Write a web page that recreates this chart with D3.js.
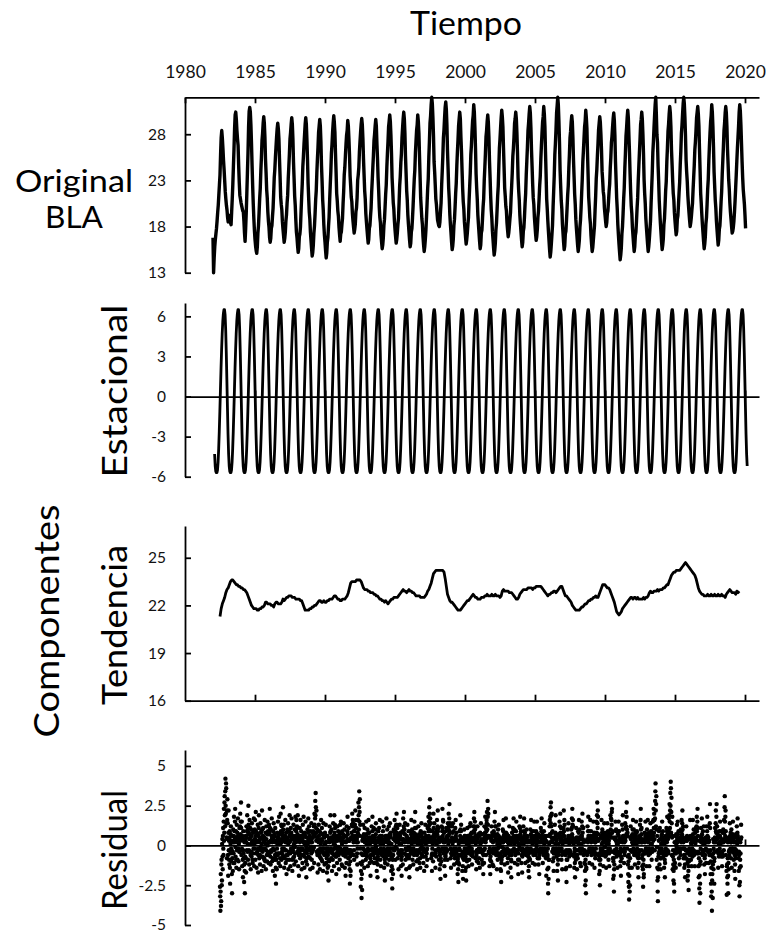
<!DOCTYPE html>
<html lang="es">
<head>
<meta charset="utf-8">
<script src="https://cdn.jsdelivr.net/npm/d3@7"></script>
<style>
  html, body { margin: 0; padding: 0; background: #fff; }
  svg { display: block; }
</style>
</head>
<body>
<svg id="chart" width="772" height="934"></svg>
<script>
// ---------------------------------------------------------------
// Sea-surface temperature at BLA and its additive decomposition
// (seasonal + trend + residual).
// ---------------------------------------------------------------

// Year ticks shared by all panels
const yearTicks = [1980, 1985, 1990, 1995, 2000, 2005, 2010, 2015, 2020];

// Tick values of each panel
const originalTicks = [13, 18, 23, 28];
const seasonalTicks = [-6, -3, 0, 3, 6];
const trendTicks = [16, 19, 22, 25];
const residualTicks = [-5, -2.5, 0, 2.5, 5];

// Original series, twice a month (°C), from January 1982
const originalStart = 1982;
const originalStep = 1 / 24;
const original = [
  16.8, 13.0, 14.6, 15.8, 16.6, 17.2, 17.8, 18.6, 19.5, 20.3, 21.4, 22.5, 23.6, 25.8, 27.6, 28.4, 27.6, 26.5, 25.2, 24.2, 23.0, 21.8, 21.0, 20.3,
  19.8, 19.0, 18.5, 18.9, 19.2, 18.7, 18.4, 18.2, 19.6, 21.0, 22.6, 24.5, 26.4, 28.6, 30.1, 30.4, 29.6, 28.4, 27.5, 26.8, 24.6, 22.8, 21.4, 21.0,
  20.6, 20.3, 20.0, 19.7, 19.6, 18.6, 17.3, 16.4, 17.8, 19.5, 21.6, 23.8, 26.0, 28.8, 30.5, 30.9, 30.4, 29.0, 27.0, 24.6, 22.4, 20.5, 18.9, 17.6,
  16.6, 15.9, 15.4, 15.1, 15.8, 17.3, 18.1, 19.5, 21.0, 22.1, 24.0, 25.5, 27.3, 28.1, 29.2, 29.9, 29.2, 27.7, 25.3, 23.8, 22.0, 21.1, 19.6, 18.6,
  17.9, 16.8, 16.3, 16.7, 17.8, 18.1, 19.1, 20.0, 21.6, 23.3, 24.2, 25.5, 26.6, 27.7, 28.6, 29.2, 28.6, 27.5, 25.3, 23.4, 21.2, 20.4, 19.8, 18.5,
  17.7, 17.0, 16.3, 16.7, 17.4, 18.6, 19.3, 20.5, 21.4, 23.2, 24.5, 25.9, 27.5, 28.2, 29.1, 29.8, 29.1, 27.5, 25.0, 23.2, 21.3, 20.3, 18.7, 17.4,
  16.8, 15.9, 15.2, 15.6, 16.9, 17.2, 18.0, 19.7, 21.2, 22.6, 24.5, 25.6, 26.9, 28.0, 29.1, 29.8, 29.1, 27.4, 25.3, 22.7, 21.1, 19.6, 18.8, 17.4,
  16.5, 15.6, 14.8, 15.2, 16.0, 17.3, 18.1, 19.4, 20.9, 21.9, 23.8, 25.3, 26.6, 28.2, 28.9, 29.6, 28.9, 27.2, 24.6, 22.9, 20.9, 19.8, 18.2, 17.1,
  16.3, 15.4, 14.6, 15.1, 16.3, 16.8, 18.0, 19.0, 20.9, 22.5, 24.0, 25.9, 26.9, 28.2, 29.2, 30.0, 29.3, 28.2, 25.9, 23.9, 21.6, 20.8, 19.7, 19.1,
  17.9, 17.1, 16.4, 17.2, 17.4, 18.2, 18.9, 20.5, 21.8, 23.6, 24.4, 25.7, 26.9, 27.9, 28.4, 29.5, 28.9, 27.5, 25.8, 23.5, 22.4, 21.2, 20.7, 19.4,
  18.6, 17.9, 17.3, 17.7, 18.3, 19.6, 20.0, 21.1, 23.0, 23.6, 24.4, 26.1, 27.2, 28.2, 29.1, 29.7, 29.0, 27.5, 25.3, 23.6, 21.9, 21.0, 19.4, 18.5,
  17.7, 16.9, 16.2, 16.6, 17.8, 18.1, 19.1, 20.0, 21.7, 23.0, 24.4, 25.7, 27.3, 28.0, 28.9, 29.6, 28.9, 27.0, 25.4, 23.3, 21.9, 20.1, 19.0, 18.4,
  17.1, 16.3, 15.6, 16.0, 16.8, 18.1, 18.8, 20.1, 21.5, 22.5, 24.4, 25.9, 27.2, 28.8, 29.4, 30.1, 29.4, 27.9, 25.9, 23.3, 22.0, 20.6, 19.9, 18.6,
  17.7, 16.9, 16.2, 16.6, 17.3, 18.2, 18.9, 20.6, 22.4, 23.4, 24.9, 25.9, 27.6, 28.7, 29.7, 30.4, 29.7, 28.1, 25.6, 23.8, 21.9, 20.9, 19.3, 18.3,
  17.4, 16.5, 15.8, 16.2, 17.4, 17.8, 18.9, 20.2, 21.7, 23.1, 24.1, 26.0, 27.2, 28.4, 29.0, 30.1, 29.4, 28.1, 25.7, 23.4, 21.1, 20.0, 18.9, 18.2,
  16.9, 16.0, 15.3, 15.8, 16.6, 17.6, 19.0, 20.5, 22.1, 23.2, 25.5, 27.2, 29.2, 30.0, 31.2, 32.0, 31.3, 29.8, 27.8, 25.0, 23.9, 22.5, 21.0, 20.4,
  19.5, 18.7, 18.4, 18.1, 18.0, 18.5, 19.6, 20.6, 22.5, 24.0, 25.6, 27.6, 28.5, 29.8, 30.9, 31.5, 30.7, 29.0, 26.2, 24.3, 22.2, 21.0, 19.3, 18.2,
  17.3, 16.3, 15.5, 15.9, 16.7, 18.1, 18.8, 20.1, 21.6, 22.7, 24.6, 26.1, 27.4, 28.9, 29.7, 30.4, 29.7, 27.7, 26.1, 24.0, 22.1, 20.7, 19.9, 18.5,
  17.7, 16.8, 16.1, 16.6, 17.3, 18.2, 19.0, 20.8, 22.3, 23.8, 25.8, 26.8, 28.2, 29.4, 30.0, 31.2, 30.4, 28.7, 26.5, 23.7, 22.2, 21.0, 19.3, 18.3,
  17.3, 16.4, 15.6, 16.0, 17.3, 17.6, 18.8, 20.1, 21.0, 23.0, 24.4, 25.9, 27.7, 28.4, 29.4, 30.1, 29.3, 27.7, 25.1, 23.3, 21.3, 19.8, 18.9, 17.5,
  16.6, 15.7, 14.9, 15.4, 16.2, 17.6, 18.4, 19.8, 21.3, 22.4, 24.5, 26.5, 27.5, 28.7, 29.8, 30.6, 29.9, 28.8, 26.5, 24.4, 22.2, 21.3, 20.2, 19.7,
  18.4, 17.6, 16.9, 17.3, 18.0, 18.8, 19.5, 21.1, 22.4, 23.8, 25.6, 26.5, 27.7, 29.2, 29.7, 30.4, 29.7, 28.1, 26.0, 23.3, 21.9, 20.9, 19.3, 18.3,
  17.4, 16.5, 15.8, 16.3, 17.5, 17.9, 19.1, 20.5, 21.6, 23.6, 25.1, 26.6, 28.4, 29.2, 30.2, 31.0, 30.3, 28.7, 26.3, 24.5, 22.6, 21.1, 20.4, 19.0,
  18.1, 17.2, 16.5, 16.9, 17.7, 19.0, 19.7, 21.0, 22.4, 23.4, 25.3, 26.8, 28.1, 29.3, 29.9, 31.0, 30.2, 28.8, 26.1, 23.7, 21.0, 19.9, 18.6, 17.5,
  16.5, 15.5, 14.7, 15.2, 16.1, 17.1, 18.1, 20.1, 21.8, 23.5, 25.8, 27.0, 28.5, 30.3, 31.1, 32.0, 31.2, 29.4, 27.1, 24.1, 22.4, 20.8, 19.9, 18.3,
  17.3, 16.3, 15.5, 15.9, 17.2, 17.5, 18.7, 20.0, 21.4, 22.4, 24.3, 25.8, 27.6, 28.3, 29.3, 30.0, 29.3, 27.6, 25.2, 23.4, 21.5, 20.4, 18.8, 17.8,
  16.9, 16.0, 15.3, 15.8, 16.5, 17.9, 18.7, 20.0, 21.6, 23.1, 25.0, 26.2, 27.5, 28.8, 29.4, 30.6, 29.8, 28.6, 26.0, 23.7, 21.2, 20.2, 19.0, 18.3,
  17.0, 16.1, 15.3, 15.7, 16.5, 17.3, 18.1, 19.8, 21.3, 23.2, 24.2, 25.7, 27.0, 28.5, 29.2, 29.9, 29.3, 28.0, 26.3, 24.0, 23.0, 21.8, 21.3, 20.0,
  19.3, 18.6, 18.0, 18.4, 19.4, 19.7, 20.7, 21.8, 22.6, 24.3, 25.5, 27.1, 27.8, 28.8, 29.7, 30.3, 29.5, 27.8, 25.0, 23.1, 21.1, 19.9, 18.2, 17.1,
  16.1, 15.2, 14.4, 14.9, 15.7, 17.2, 18.0, 19.4, 21.0, 22.2, 24.3, 25.9, 27.8, 28.7, 29.8, 30.6, 29.8, 27.8, 26.0, 23.7, 21.7, 20.2, 19.4, 17.9,
  17.0, 16.1, 15.3, 15.8, 17.0, 17.4, 18.6, 20.0, 21.1, 23.0, 24.5, 26.0, 27.4, 29.0, 29.6, 30.4, 29.6, 28.0, 25.9, 23.1, 21.6, 20.5, 18.9, 17.9,
  17.0, 16.1, 15.3, 15.8, 16.6, 17.6, 18.6, 20.5, 22.1, 23.8, 26.0, 27.2, 28.7, 30.0, 31.2, 32.0, 30.2, 28.0, 27.1, 24.6, 22.9, 20.8, 19.5, 18.3,
  17.3, 16.3, 15.5, 16.0, 16.7, 18.2, 18.9, 20.3, 21.9, 22.9, 25.0, 26.5, 28.3, 29.1, 30.2, 31.0, 30.3, 28.8, 26.3, 24.7, 23.0, 21.6, 20.9, 19.5,
  18.6, 17.8, 17.1, 17.5, 18.8, 19.2, 20.4, 21.7, 22.8, 24.7, 26.2, 28.1, 29.0, 30.2, 31.3, 32.0, 31.3, 29.8, 27.8, 25.2, 23.9, 22.9, 21.4, 20.4,
  19.5, 18.7, 18.0, 18.4, 19.0, 19.8, 20.5, 22.0, 23.3, 24.6, 26.3, 27.2, 28.4, 29.8, 30.4, 31.0, 30.2, 28.9, 26.4, 24.1, 21.6, 20.5, 19.3, 18.2,
  17.3, 16.4, 15.6, 16.1, 16.9, 18.3, 19.0, 20.4, 22.0, 23.1, 25.1, 26.7, 28.1, 29.3, 30.0, 31.2, 30.4, 28.8, 26.6, 23.9, 22.4, 20.9, 20.0, 18.6,
  17.7, 16.8, 16.0, 16.5, 17.7, 18.1, 19.3, 20.7, 21.8, 23.7, 25.2, 26.7, 28.4, 29.2, 30.3, 31.0, 30.3, 28.8, 26.4, 24.8, 23.1, 22.1, 20.6, 19.6,
  18.8, 18.0, 17.3, 17.5, 17.9, 18.6, 19.6, 20.8, 22.2, 23.6, 25.1, 26.5, 27.7, 28.9, 30.4, 31.2, 30.5, 29.0, 27.0, 25.0, 23.3, 22.0, 21.2, 20.4,
  19.2, 17.8
];

// Seasonal component: one annual cycle, twice a month, starting at the winter minimum
const seasonalCycle = [
  -5.7, -5.5, -4.9, -3.9, -2.6, -1.1, 0.5, 2.1, 3.5, 4.7, 5.6, 6.2,
  6.5, 6.5, 6.1, 5.0, 3.3, 1.3, -0.8, -2.8, -4.3, -5.2, -5.6, -5.7
];
const seasonalStart = 1982.115;  // date of the first seasonal value
const seasonalFirstPhase = 20;   // position of that value inside the cycle
const seasonalCount = 914;
const seasonalStep = 1 / 24;

// Trend component, monthly, from July 1982
const trendStart = 1982.5;
const trendStep = 1 / 12;
const trend = [
  21.3, 21.8, 22.1, 22.3, 22.5, 22.8,
  23.0, 23.1, 23.3, 23.5, 23.6, 23.6, 23.5, 23.4, 23.3, 23.3, 23.2, 23.2,
  23.1, 23.1, 23.0, 23.0, 22.9, 22.8, 22.6, 22.4, 22.2, 22.0, 21.9, 21.8,
  21.8, 21.8, 21.7, 21.7, 21.8, 21.8, 21.9, 21.9, 22.0, 22.2, 22.2, 22.1,
  22.1, 22.1, 22.0, 22.0, 21.9, 22.1, 22.2, 22.2, 22.1, 22.1, 22.1, 22.2,
  22.4, 22.3, 22.4, 22.5, 22.5, 22.6, 22.6, 22.6, 22.5, 22.5, 22.5, 22.4,
  22.4, 22.4, 22.4, 22.3, 22.3, 22.1, 21.9, 21.7, 21.7, 21.7, 21.7, 21.8,
  21.8, 21.9, 21.9, 22.0, 22.0, 22.1, 22.2, 22.3, 22.3, 22.2, 22.2, 22.3,
  22.2, 22.2, 22.3, 22.3, 22.4, 22.4, 22.4, 22.5, 22.6, 22.6, 22.5, 22.4,
  22.4, 22.3, 22.3, 22.4, 22.4, 22.4, 22.5, 22.6, 22.8, 23.1, 23.4, 23.5,
  23.5, 23.5, 23.5, 23.6, 23.6, 23.6, 23.6, 23.5, 23.3, 23.1, 23.0, 23.0,
  23.0, 22.9, 22.9, 22.8, 22.8, 22.8, 22.7, 22.7, 22.6, 22.6, 22.5, 22.4,
  22.4, 22.3, 22.3, 22.2, 22.3, 22.2, 22.1, 22.2, 22.3, 22.4, 22.4, 22.5,
  22.5, 22.5, 22.5, 22.6, 22.7, 22.8, 22.9, 23.0, 22.9, 22.9, 22.8, 22.9,
  23.0, 22.9, 22.9, 22.8, 22.8, 22.7, 22.6, 22.6, 22.6, 22.6, 22.5, 22.5,
  22.5, 22.5, 22.6, 22.7, 22.9, 23.0, 23.2, 23.4, 23.7, 24.0, 24.1, 24.2,
  24.2, 24.2, 24.2, 24.2, 24.2, 24.2, 24.1, 23.7, 23.2, 22.7, 22.5, 22.3,
  22.2, 22.2, 22.1, 22.0, 21.9, 21.8, 21.7, 21.7, 21.7, 21.8, 21.9, 22.0,
  22.1, 22.2, 22.3, 22.3, 22.4, 22.5, 22.6, 22.7, 22.6, 22.5, 22.5, 22.4,
  22.4, 22.4, 22.5, 22.5, 22.5, 22.6, 22.6, 22.7, 22.6, 22.6, 22.6, 22.7,
  22.6, 22.6, 22.7, 22.6, 22.6, 22.6, 22.5, 22.6, 22.9, 23.0, 22.9, 22.9,
  22.9, 22.9, 22.8, 22.8, 22.8, 22.7, 22.6, 22.5, 22.4, 22.4, 22.5, 22.7,
  22.8, 22.9, 23.0, 23.0, 23.0, 23.0, 23.1, 23.1, 23.1, 23.1, 23.0, 23.1,
  23.1, 23.2, 23.2, 23.2, 23.2, 23.2, 23.1, 23.0, 22.9, 22.8, 22.7, 22.6,
  22.7, 22.7, 22.8, 22.8, 22.9, 22.9, 22.8, 22.9, 23.0, 23.1, 23.2, 23.2,
  23.0, 22.8, 22.6, 22.6, 22.5, 22.4, 22.3, 22.2, 22.0, 21.9, 21.8, 21.7,
  21.7, 21.7, 21.7, 21.8, 21.9, 21.9, 22.0, 22.1, 22.1, 22.2, 22.3, 22.3,
  22.4, 22.4, 22.5, 22.5, 22.6, 22.5, 22.5, 22.7, 22.9, 23.1, 23.3, 23.3,
  23.3, 23.2, 23.1, 23.1, 23.0, 22.8, 22.6, 22.4, 22.2, 21.9, 21.6, 21.5,
  21.4, 21.5, 21.6, 21.8, 21.9, 22.0, 22.1, 22.2, 22.3, 22.4, 22.5, 22.5,
  22.4, 22.5, 22.5, 22.4, 22.5, 22.4, 22.4, 22.4, 22.4, 22.5, 22.4, 22.5,
  22.5, 22.6, 22.8, 22.9, 22.8, 22.8, 22.9, 22.9, 22.9, 23.0, 22.9, 23.0,
  23.0, 23.0, 23.1, 23.1, 23.2, 23.3, 23.3, 23.5, 23.7, 23.9, 24.0, 24.1,
  24.1, 24.2, 24.2, 24.2, 24.2, 24.3, 24.4, 24.5, 24.6, 24.7, 24.6, 24.5,
  24.4, 24.3, 24.2, 24.1, 24.0, 23.9, 23.7, 23.4, 23.1, 22.9, 22.8, 22.7,
  22.7, 22.6, 22.6, 22.6, 22.7, 22.6, 22.6, 22.7, 22.6, 22.6, 22.7, 22.6,
  22.6, 22.7, 22.6, 22.6, 22.7, 22.6, 22.6, 22.5, 22.7, 22.8, 22.9, 23.0,
  22.9, 22.8, 22.8, 22.8, 22.7, 22.9, 22.8, 22.9
];

// Residual component, 72 values a year, from July 1982
const residualStart = 1982.5;
const residualStep = 1 / 72;
const residual = [
  -2.6, -3.2, -4.1, -2.9, -1.8, -3.8, -3.5, -1.2, -0.9, -2.5, -2.2, 0.1, 0.4, -0.7, -1.5, 0.6, 1.1, -0.2, -0.6, 1.5, 2.3, 0.3, 0.8, 2.7, 3.1, 1.9, 1.2, 3.4, 4.2, 2.5, 2.0, 3.9, 3.6, 1.4, 0.5, 2.2,
  // 1983
  -0.8, 1.6, 2.9, 0.4, 1.4, -0.6, -1.9, 0.8, 2.2, -0.3, 0.3, -0.9, -1.2, 0.5, 0.9, -1.4, -2.4, -0.5, 0.1, 0.7, 1.2, -0.2, -1.0, 0.3,
  -0.3, -1.8, -3.0, -0.8, 0.6, -0.4, -1.6, 0.2, 1.0, -1.1, -0.5, 0.6, 1.8, 0.2, -1.1, 0.9, 0.4, 1.5, 2.3, -0.1, -0.7, 0.5, 0.9, -0.9,
  -1.4, 0.4, 1.3, -0.3, 0.2, 0.8, -0.9, 0.3, 1.7, 0.6, -0.2, -1.0, 0.6, 0.1, -1.5, -0.4, 1.1, 0.4, -0.4, 1.2, 2.0, 0.3, 0.7, 1.5,
  // 1984
  2.7, 1.1, -0.6, 0.5, 1.5, -0.2, -1.3, 0.6, 0.4, -0.9, -2.0, -0.3, 0.9, -0.5, -0.8, 0.3, -2.3, -1.2, 0.2, -1.6, -3.0, -0.7, -1.1, 0.4,
  0.6, -0.8, -1.7, 0.2, 1.2, 0.5, -0.3, 0.9, 1.9, -0.4, 0.1, 1.0, -0.9, 0.7, 2.5, 1.3, 0.8, -0.3, -1.2, 0.4, 1.6, 0.7, -0.4, 1.1,
  0.5, -0.6, -1.5, 0.1, 1.0, -0.4, -0.7, 0.6, 1.4, 0.2, 0.2, -0.9, -1.1, 0.3, 0.8, -0.5, -0.2, 0.9, 1.7, 0.1, -1.3, -0.2, 0.4, 1.0,
  // 1985
  1.6, 0.4, -0.9, 0.6, 2.1, 0.9, 0.3, -0.5, -1.4, 0.2, 0.8, -0.4, -0.5, 0.7, 1.3, -0.2, -1.7, -0.6, 0.6, 1.1, 1.9, 0.3, -0.8, 0.5,
  0.2, -0.6, -1.2, 0.4, 1.4, -0.1, -0.3, 0.8, 0.9, -0.7, -1.6, 0.1, 2.2, 1.0, 0.5, -0.4, -0.7, 0.6, 1.1, -0.2, -1.3, 0.3, 0.4, -0.8,
  -0.9, 0.5, 1.6, 0.2, -0.2, -1.0, 0.8, 0.1, -1.5, -0.3, 1.2, 0.4, 0.1, -0.6, -1.0, 0.7, 1.5, 0.0, -0.4, 0.9, 0.7, -0.5, -1.1, 0.2,
  // 1986
  1.3, 0.2, -0.6, 0.8, 2.3, 1.1, 0.2, -0.7, -1.2, 0.3, 1.0, -0.3, -0.4, 0.6, 1.7, 0.4, -1.0, 0.2, 0.5, -0.8, -1.6, -0.2, 0.9, 0.3,
  1.4, 0.5, -0.3, 0.7, 0.6, -0.9, -1.9, -0.6, 1.1, 0.2, -0.8, -1.4, -2.4, -0.9, 0.3, -0.5, -1.5, -0.2, 0.8, 0.1, -0.6, 0.5, 1.5, 0.6,
  0.2, -0.5, -1.1, 0.4, 1.8, 0.7, -0.5, 0.3, 0.7, -0.8, -1.3, 0.1, 2.0, 0.9, 0.4, 1.3, -0.9, 0.2, 1.2, -0.4, -0.2, 0.8, 0.6, -0.6,
  // 1987
  2.4, 1.0, -0.7, 0.4, 1.3, -0.2, -1.4, 0.3, 0.5, -0.8, -0.3, 0.6, 1.6, 0.2, -1.1, -0.3, 0.8, 0.3, -1.8, -0.6, 0.2, -0.9, 1.0, 0.4,
  -0.6, 0.5, 1.4, 0.1, -1.5, -0.4, 0.3, 0.9, -0.9, 0.2, 1.9, 0.6, 0.7, -0.5, -1.3, 0.3, 1.1, -0.2, -0.4, 0.8, 1.7, 0.5, -0.2, -0.9,
  -1.6, -0.4, 0.6, -0.3, -0.8, 0.4, 1.3, 0.0, 0.1, -0.7, -1.2, 0.3, 1.0, -0.1, -0.5, 0.6, 1.8, 0.5, -1.0, 0.2, 0.9, 1.6, 2.5, 1.1,
  // 1988
  1.2, 0.3, -0.4, 0.7, 1.9, 0.5, -1.3, -0.2, 0.6, -0.6, -1.9, -0.5, 0.3, -0.4, 1.1, 0.2, -0.8, 0.4, 1.6, 0.6, -0.2, 0.5, 0.9, -0.3,
  -1.5, -0.6, 0.4, -0.2, -1.1, 0.3, 1.3, 0.5, -0.6, 0.7, 1.8, 0.2, 0.2, -0.7, -1.4, 0.1, 0.8, -0.4, -0.3, 0.6, 1.5, 0.2, -1.0, -0.1,
  -2.0, -0.8, 0.5, -0.5, -1.2, 0.2, 1.0, -0.3, 0.1, 0.8, 1.7, 0.4, -0.7, 0.3, 1.2, -0.2, -0.3, 0.5, 0.6, -0.8, -1.5, -0.1, 0.9, 0.2,
  // 1989
  0.3, -0.5, 1.4, 0.4, -0.9, 0.2, 0.8, -0.4, -1.4, -0.3, 0.5, 0.9, -0.2, 0.6, 1.2, -0.1, -1.1, 0.7, 2.0, 1.3, 0.6, 1.7, 2.8, 1.9,
  3.3, 2.4, 1.1, 0.3, 2.2, 0.8, -0.4, 0.5, 1.0, -0.6, -1.7, -0.5, 0.4, -0.3, -1.2, 0.2, 1.3, 0.6, -0.5, 0.3, 0.9, -0.7, -1.5, -0.2,
  0.2, 0.8, -0.8, 0.1, 1.6, 0.4, -0.3, -0.9, 1.1, 0.3, -1.0, -0.2, 0.7, -0.4, -1.6, -0.5, 1.4, 0.6, -0.2, 0.7, 0.5, -0.6, -1.2, 0.1,
  // 1990
  0.8, 0.1, -0.5, 0.6, 1.3, 0.2, -1.1, -0.2, 0.2, -0.8, -1.7, -0.4, 0.6, -0.3, -1.4, -0.6, -0.2, -1.3, -2.2, -0.9, 0.4, -0.4, -1.0, 0.2,
  1.2, 0.4, -0.3, 0.8, 1.9, 0.9, 0.5, -0.2, -0.8, 0.3, 1.0, -0.4, -1.6, -0.5, 0.3, -0.3, -0.9, 0.4, 1.4, 0.6, 0.1, -0.6, -1.3, -0.2,
  1.9, 0.8, 0.2, 1.3, 1.1, 0.0, -0.7, 0.5, 0.6, -0.5, -1.8, -0.7, 0.4, -0.2, -1.1, 0.3, 1.2, 0.5, -0.4, 0.6, 0.9, -0.1, -0.6, 0.4,
  // 1991
  -1.5, -0.4, 0.7, -0.2, -0.9, 0.5, 1.3, 0.3, -0.2, 0.8, 1.5, 0.4, 0.5, -0.5, -1.2, 0.1, 0.9, -0.4, -1.3, -0.3, 0.3, 0.7, -0.6, 0.2,
  1.4, 0.5, -0.4, 0.6, 1.0, -0.2, -1.4, -0.5, 0.6, -0.7, -1.9, -0.6, 0.2, 0.6, -1.1, -0.2, 1.2, 0.3, -0.3, 0.9, 1.8, 0.7, 0.4, -0.4,
  -0.8, 0.3, 1.1, -0.5, -1.2, -0.3, 0.3, -1.5, -2.4, -0.7, -1.0, -1.9, -1.6, -0.3, 0.5, -0.6, -0.4, 0.8, 1.3, 0.4, 2.0, 1.2, 0.6, 1.6,
  // 1992
  1.4, 0.5, -0.6, 0.2, 0.9, -0.3, -0.9, 0.4, 0.5, 0.9, 1.3, 0.6, 2.2, 1.1, 0.3, 1.6, 1.1, 0.2, -0.7, 0.5, 0.4, -0.5, -1.2, -0.2,
  0.8, 0.2, 1.6, 0.7, 2.7, 1.9, 1.0, 2.4, 3.4, 1.5, 2.1, 2.9, 0.6, 1.3, -1.1, -0.2, -2.6, -1.6, -0.5, -2.1, -3.3, -1.2, -1.8, -2.8,
  0.3, -0.6, -1.0, 0.4, 1.3, 0.5, -0.2, 0.6, 0.7, -0.6, -1.4, -0.3, 1.1, 0.2, -0.5, 0.4, 0.6, -0.4, -0.9, 0.3, 1.5, 0.7, 0.1, -0.6,
  // 1993
  -0.7, 0.2, 1.0, -0.4, -1.3, -0.2, 0.4, 0.8, 1.6, 0.5, -0.3, 0.3, 0.8, -0.3, -1.1, 0.1, 0.5, -0.8, -1.9, -0.6, 0.2, -0.3, -1.0, 0.4,
  1.2, 0.3, -0.2, 0.9, 1.8, 0.4, 0.6, -0.5, -0.6, 0.3, 1.1, 0.2, -1.1, -0.4, 0.4, -0.2, -0.8, 0.5, 1.0, 0.2, 0.0, 0.7, 1.4, -0.1,
  -0.5, -1.1, -1.6, -0.3, 0.3, -0.9, -2.0, -1.2, -0.7, 0.2, 0.9, -0.3, -0.4, 0.5, 1.1, 0.3, 0.2, -0.5, 1.6, 0.6, -0.9, 0.1, 0.6, -0.2,
  // 1994
  -1.3, -0.3, 0.5, -0.4, -0.6, 0.6, 1.5, 0.4, 0.2, -0.5, 0.9, 0.1, -0.7, 0.3, 1.2, -0.2, -1.4, -0.4, 0.3, -0.9, -2.2, -1.1, -0.6, 0.4,
  0.6, -0.3, -0.8, 0.5, 1.7, 0.6, 0.2, -0.4, 1.0, 0.3, -1.2, -0.2, 0.4, -0.6, -0.5, 0.6, 1.2, 0.1, -0.9, 0.2, 0.7, -0.4, 1.4, 0.5,
  -0.2, 0.6, 0.8, -0.5, -1.6, -0.7, 0.1, -1.3, -2.1, -0.8, -2.7, -1.5, -0.9, -0.2, -1.8, -0.6, 0.4, 0.9, 1.0, -0.3, -0.3, 0.5, 1.6, 0.7,
  // 1995
  0.3, 0.9, -0.9, -0.1, 1.2, 0.5, 0.4, 1.3, 2.0, 0.8, -0.2, 0.6, 1.1, 0.2, -0.8, 0.4, 0.5, -0.5, -1.5, -0.4, 0.2, 0.7, -0.6, 0.1,
  1.3, 0.4, -0.4, 0.6, 0.8, -0.3, -1.3, -0.5, 0.1, -0.9, -1.9, -0.7, -0.3, 0.4, 0.9, -0.5, -1.2, 0.3, 1.7, 0.8, 0.4, 1.2, 2.1, 1.0,
  1.0, 0.2, -0.5, 0.7, 1.4, 0.3, -0.9, -0.2, 0.3, -0.6, -1.5, -0.3, 0.6, -0.2, -0.8, 0.5, 1.3, 0.4, 0.2, -0.7, -0.6, 0.3, 0.9, -0.1,
  // 1996
  -0.8, -1.4, -2.0, -0.6, 0.4, -0.3, -1.3, 0.2, 0.9, -0.4, -0.2, 0.7, 1.6, 0.5, 0.1, -0.5, 1.0, 0.3, -0.9, 0.2, 0.5, -0.4, -1.2, -0.2,
  0.3, 0.8, -0.6, 0.2, 1.5, 0.6, 0.2, 1.1, 2.1, 0.7, -0.4, 0.4, 1.1, 0.2, -1.0, -0.3, 0.4, -0.6, -1.5, -0.5, 0.6, 0.1, -0.9, 0.3,
  1.2, 0.4, -0.3, 0.5, 0.7, -0.4, -1.1, 0.1, 0.2, -0.8, -1.4, -0.2, 0.9, 0.1, -0.5, 0.6, 1.4, 0.3, 0.0, -0.6, 0.8, 0.2, -0.7, 0.4,
  // 1997
  0.5, -0.3, -1.1, -0.2, 0.2, -0.7, -1.6, -0.4, 0.8, 0.2, -0.4, 0.5, 1.3, 0.4, -0.7, 0.1, 0.6, -0.3, -1.3, -0.5, 0.3, -0.2, -0.9, 0.4,
  1.1, 0.5, 0.2, 1.2, 1.8, 0.9, 0.6, 1.5, 2.4, 1.3, 1.0, 2.0, 2.9, 1.7, 0.4, 0.9, 1.4, 0.2, -0.8, 0.3, 0.5, -0.6, -1.6, -0.5,
  -0.2, 0.4, 0.9, 0.1, -1.0, 0.6, 2.0, 1.1, 0.3, 0.8, 1.4, 0.5, -0.6, 0.2, 0.8, -0.3, -1.4, -0.5, 0.2, 0.6, -0.7, 0.3, 1.0, 0.1,
  // 1998
  1.6, 0.7, -0.3, 1.2, 2.2, 0.9, 0.4, -0.2, 1.1, 0.3, -0.9, 0.2, 0.5, -0.4, -1.5, -0.6, -0.4, -1.2, -2.1, -0.8, 0.3, -0.3, -1.0, 0.5,
  1.2, 0.4, -0.2, 0.9, 2.3, 1.1, 0.6, 1.6, 1.5, 0.2, -0.5, 0.4, 0.8, -0.2, -1.3, -0.4, 0.2, -0.9, -1.9, -0.7, -0.6, 0.3, 0.9, -0.2,
  1.1, 0.3, -0.4, 0.5, 0.6, -0.3, -0.9, 0.4, 1.4, 0.6, 0.1, 1.0, 2.0, 1.2, 0.7, 1.7, 2.6, 0.9, 0.3, 1.4, 1.2, -0.2, -0.8, 0.3,
  // 1999
  -1.4, -0.5, 0.3, -0.3, -0.6, 0.5, 1.2, 0.2, 0.1, 0.8, 1.4, 0.4, -0.5, 0.3, 0.9, -0.2, -1.2, -0.4, 0.4, -0.6, -0.8, 0.3, 1.1, 0.5,
  1.6, 0.6, -0.2, 0.4, 0.8, -0.5, -1.1, -0.3, 0.3, -0.8, -1.8, -0.9, -0.7, -1.5, -2.3, -1.1, 0.1, -0.6, -1.2, -0.2, 0.9, 0.3, -0.3, 0.6,
  1.9, 1.0, 0.4, 0.9, 1.3, 0.3, -0.6, 0.2, 0.5, -0.7, -1.6, -0.5, -0.4, -1.3, -2.1, -0.8, 0.2, -0.4, -0.9, 0.3, 1.0, 0.4, -0.2, 0.6,
  // 2000
  0.6, -0.5, -1.6, -0.7, -0.3, -1.4, -2.2, -0.9, 0.4, -0.2, -1.0, 0.1, 1.1, 0.3, -0.2, 0.6, 0.6, -0.5, -1.3, -0.4, 0.1, 0.5, -0.9, -0.1,
  1.2, 0.4, -0.4, 0.5, 1.4, 0.7, 0.3, -0.3, -0.6, 0.2, 0.8, -0.2, -1.2, -0.4, 0.2, -0.5, -0.7, 0.4, 1.2, 0.5, 0.3, 0.9, 1.7, 0.8,
  2.1, 1.2, 0.4, 1.5, 1.0, 0.2, -0.8, 0.1, 0.6, -0.4, -1.5, -0.6, 0.2, -0.3, -1.0, 0.4, 1.2, 0.5, -0.3, 0.6, 0.7, -0.4, -1.1, -0.2,
  // 2001
  -0.8, 0.2, 0.6, -0.4, -1.4, -0.3, 0.8, 0.1, -0.2, 0.7, 1.4, 0.4, 0.3, -0.4, -0.9, 0.2, 0.7, -0.3, -1.2, -0.5, -0.3, -1.1, -1.8, -0.6,
  0.4, -0.3, -1.1, 0.3, 1.2, 0.5, -0.2, 0.8, 1.8, 0.7, 0.2, 1.1, -0.6, 0.4, 0.9, 1.6, 1.4, 2.1, 0.5, 1.0, 2.8, 1.8, 1.3, 2.3,
  2.0, 0.6, -0.4, 0.5, 0.6, -0.5, -1.3, -0.2, -0.2, -0.9, -1.8, -0.7, 0.5, -0.3, -1.0, 0.3, 1.2, 0.4, -0.4, 0.6, 0.8, -0.3, -1.2, -0.4,
  // 2002
  0.2, -0.5, -1.3, -0.2, 0.9, 0.3, -0.4, 0.6, 1.5, 0.7, 2.1, 1.2, 0.6, -0.2, 1.2, 0.4, -0.6, 0.3, 0.4, -0.4, -1.5, -0.6, 0.1, 0.7,
  -0.9, -0.2, 1.0, 0.3, -0.1, 0.6, 1.3, 0.4, 0.3, -0.5, -0.8, 0.1, 0.5, -0.6, -1.5, -0.7, -0.6, -1.6, -2.3, -1.1, -0.9, -0.1, 0.4, -0.4,
  -0.7, 0.3, 1.0, 0.2, 0.2, 0.9, 1.6, 0.6, -0.2, 0.4, 0.7, -0.5, -1.2, -0.3, 0.3, -0.6, -0.5, 0.6, 1.7, 0.8, 0.6, -0.3, -0.5, 0.4,
  // 2003
  0.7, -0.2, -1.1, -0.4, 0.2, -0.8, -1.7, -0.5, 0.6, 0.1, -0.3, 0.5, 1.2, 0.3, -0.6, 0.2, 0.4, -0.5, -1.4, -0.6, 0.1, -0.9, -2.0, -1.0,
  -0.6, 0.2, 0.8, -0.3, -0.4, 0.5, 1.1, 0.4, 0.3, 0.9, 1.7, 0.6, -0.2, 0.5, 1.0, 0.1, -1.1, -0.3, 0.4, -0.6, -0.5, 0.3, 0.9, 0.2,
  1.5, 0.6, -0.3, 0.4, 0.6, -0.4, -1.2, -0.3, 0.2, -0.9, -1.8, -0.5, 0.1, 0.6, -0.9, -0.1, 1.2, 0.5, 0.4, 1.1, 1.8, 0.7, -0.2, 0.5,
  // 2004
  0.9, 0.1, -1.1, -0.3, 0.3, -0.6, -1.7, -0.7, 0.5, -0.2, -0.4, 0.4, 1.2, 0.4, 0.1, 0.9, 1.7, 0.6, -0.5, 0.2, 0.8, -0.3, -1.1, -0.4,
  0.4, -0.3, -0.6, 0.3, 1.0, 0.2, -0.2, 0.5, 0.6, -0.4, -1.0, -0.2, 0.2, -0.7, -1.6, -0.5, -0.5, -1.3, -2.0, -0.8, 0.3, -0.3, -0.9, 0.2,
  1.0, 0.3, -0.2, 0.7, 1.6, 0.6, 0.5, -0.3, -0.4, 0.3, 0.9, 0.1, -1.1, -0.4, 0.2, -0.5, -0.6, 0.4, 0.9, 0.2, 1.5, 0.6, -0.3, 0.4,
  // 2005
  -1.2, -0.3, 0.4, -0.4, -0.6, 0.3, 0.9, 0.1, -0.1, 0.7, 1.5, 0.5, 0.3, -0.3, -0.8, 0.2, 0.7, -0.4, -1.2, -0.3, 0.2, -0.8, -1.8, -0.6,
  -0.5, 0.2, 0.6, -0.2, -0.3, 0.5, 1.1, 0.3, 0.2, 0.9, 1.7, 0.6, -0.4, 0.3, 0.8, -0.2, -1.1, -0.4, 0.5, -0.3, -0.6, 0.4, 0.9, 0.1,
  1.4, 0.5, -0.2, 0.6, 0.5, -0.4, -0.7, 0.2, 0.3, -0.8, -1.9, -0.6, -0.4, 0.2, 0.6, -0.7, -1.5, -0.6, -0.2, -2.4, -3.0, -1.4, -2.1, -0.9,
  // 2006
  -0.9, 0.1, 0.6, 1.2, 1.6, 0.7, 0.2, 1.8, 2.4, 1.4, 2.7, 1.9, 1.2, 0.5, 2.0, 0.8, 0.3, -0.4, 0.9, 0.2, -1.0, -0.3, -0.2, -0.8,
  -1.6, -0.5, 0.4, -0.3, -0.5, 0.5, 1.3, 0.4, 0.1, 0.8, 1.9, 0.7, 0.6, -0.2, -0.7, 0.3, 0.4, -0.5, -1.6, -0.6, -0.3, -1.2, -2.2, -0.9,
  -0.6, 0.1, 0.7, -0.2, -0.4, 0.6, 1.5, 0.5, 0.5, 1.2, 2.0, 0.8, 0.3, -0.3, 1.1, 0.2, -0.9, -0.2, 0.4, -0.6, -1.5, -0.4, 0.1, 0.6,
  // 2007
  0.8, 0.2, -0.4, 1.1, 2.2, 0.9, 0.6, 1.6, 1.3, 0.3, -0.5, 0.2, 0.4, -0.6, -1.5, -0.5, -0.3, -1.4, -2.3, -0.9, 0.2, -0.4, -0.9, 0.3,
  1.0, 0.2, -0.3, 0.6, 1.4, 0.5, 0.2, -0.5, -0.7, 0.1, 0.6, -0.3, -1.3, -0.4, 0.3, -0.6, -0.5, 0.4, 1.0, 0.2, 0.4, 1.1, 1.7, 0.7,
  2.3, 1.3, 0.5, 1.6, 1.2, 0.3, -0.6, 0.1, 0.3, -0.7, -1.4, -0.4, -0.2, -1.1, -2.0, -0.7, 0.4, -0.3, -0.9, 0.2, 1.1, 0.3, -0.6, 0.5,
  // 2008
  -1.5, -0.6, 0.3, -0.3, -0.8, 0.2, 0.9, 0.1, 0.2, 0.8, 1.6, 0.5, -0.3, 0.4, 1.0, -0.2, -1.1, -0.4, 0.4, -0.5, -1.3, -0.3, 0.6, 0.1,
  1.5, 0.6, -0.2, 1.2, 2.0, 0.8, 0.4, -0.3, 1.1, 0.2, -0.6, 0.3, 0.2, -0.5, -1.1, -0.3, -0.4, -1.6, -2.5, -1.2, -0.9, -2.2, -3.0, -1.5,
  -1.4, -0.5, 0.3, -0.4, -0.6, 0.4, 1.2, 0.3, 0.2, 0.9, 1.8, 0.6, -0.4, 0.3, 0.9, -0.2, -1.1, -0.3, 0.5, -0.4, 1.6, 0.6, -0.2, 0.5,
  // 2009
  0.9, 0.2, -0.6, 0.3, 0.3, -0.5, -1.2, -0.3, 0.6, -0.2, -0.4, 0.5, 1.5, 0.4, -0.3, 0.6, 0.8, -0.4, -1.4, -0.5, 0.2, -0.6, -0.8, 0.2,
  0.6, -0.2, -0.5, 0.5, 1.5, 0.8, 0.3, 1.9, 2.7, 1.4, 1.1, 2.2, 1.8, 0.7, -0.6, 0.3, 0.4, -0.9, -1.8, -0.7, -0.5, -1.6, -2.5, -1.2,
  -0.9, -0.2, 0.5, -0.4, -0.3, 0.6, 1.6, 0.5, 0.1, 0.8, 1.0, -0.2, -0.6, 0.2, 0.4, -0.5, -1.3, -0.4, 0.2, 0.7, 1.4, 0.4, -0.1, 0.5,
  // 2010
  0.8, -0.1, -0.7, 0.2, 0.5, -0.6, -1.4, -0.4, 0.1, 0.6, -0.5, 0.3, 1.4, 0.5, 0.2, 0.9, 0.8, -0.2, -0.9, 0.1, 0.3, -0.5, -1.3, -0.3,
  0.6, -0.2, -0.4, 0.7, 1.9, 1.0, 0.5, 1.7, 2.7, 1.6, 1.3, 2.1, 2.3, 0.8, -0.4, 0.5, 0.9, -0.8, -2.1, -1.0, -0.8, -1.9, -2.9, -1.5,
  -1.2, -0.3, 0.4, -0.4, -0.5, 0.5, 1.5, 0.4, 0.3, 1.0, 0.9, -0.2, -0.7, 0.1, 0.2, -0.6, -1.4, -0.4, 0.1, 0.7, 0.9, 0.3, 1.5, 0.6,
  // 2011
  0.9, 0.2, -0.6, 0.4, 0.3, -0.5, -1.3, -0.4, -0.2, -1.0, -1.9, -0.7, 0.4, -0.3, -0.8, 0.3, 1.3, 0.5, 0.2, 1.0, 1.9, 0.6, -0.3, 0.4,
  0.6, -0.4, -1.1, -0.2, 0.2, -0.6, -0.4, 0.5, 1.4, 0.3, 0.5, 1.1, 2.1, 1.2, 0.7, 1.8, 2.7, 1.0, -0.2, 0.6, 0.8, -0.7, -1.2, -1.8,
  -2.3, -1.0, -0.6, -2.6, -3.4, -1.9, -1.4, -2.9, -2.5, -0.8, 0.5, -0.3, 1.2, 0.4, -0.3, 0.5, 0.6, -0.4, -1.4, -0.3, 0.2, 0.7, 1.0, 0.1,
  // 2012
  1.6, 0.6, -0.2, 0.5, 1.0, 0.1, -0.6, 0.3, 0.2, -0.5, -1.2, -0.3, 0.8, 0.1, -0.4, 0.6, 1.5, 0.4, 0.1, 0.8, 0.9, -0.2, -0.7, 0.2,
  -1.4, -0.5, 0.3, -0.8, -2.0, -1.1, -0.6, 0.2, 0.5, -0.3, -0.4, 0.6, 1.3, 0.4, 0.6, 1.6, 2.3, 1.0, 0.2, 0.7, 1.1, -0.3, -0.8, 0.2,
  -1.3, -0.6, 0.4, -1.5, -2.6, -1.2, -0.9, -2.0, -1.8, -0.4, 0.3, -0.5, 0.8, 0.2, -0.5, 0.6, 1.5, 0.4, -0.2, 0.5, 0.7, -0.4, -1.3, -0.2,
  // 2013
  1.0, 0.3, -0.3, 0.7, 1.6, 0.5, 0.2, -0.4, -0.6, 0.3, 0.8, -0.2, -1.3, -0.4, 0.4, -0.3, -0.5, 0.6, 1.4, 0.4, 0.1, 0.9, 0.7, -0.3,
  -0.9, 0.1, 0.5, -0.4, -0.2, 0.8, 1.5, 0.6, 0.3, 1.6, 2.3, 1.1, 0.8, 2.0, 1.6, 0.4, -0.3, 1.7, 2.8, 3.4, 3.9, 2.2, 1.2, 2.6,
  3.1, 1.0, -0.9, -0.1, 0.6, -1.4, -2.2, -2.9, -3.5, -2.0, -1.5, -0.7, -0.5, 0.3, 0.9, -0.4, -1.2, -0.2, 1.1, 0.4, -0.2, -0.8, -1.5, -0.5,
  // 2014
  -0.8, 0.1, 0.6, -0.3, -0.2, 0.7, 1.5, 0.5, 0.3, -0.4, 0.9, 0.2, -0.7, 0.2, 0.4, -0.5, -1.4, -0.6, 0.1, -0.9, -2.0, -1.1, -0.4, 0.3,
  0.6, -0.2, -0.6, 0.4, 1.1, 0.3, 0.2, 0.9, 1.8, 0.7, -0.3, 0.5, 0.4, -0.5, -0.4, 0.8, 1.7, 1.0, 0.6, 1.9, 2.6, 1.5, 1.1, 2.2,
  3.3, 2.5, 4.0, 3.6, 0.8, 2.1, 3.0, 1.4, -0.6, 0.5, 1.8, 0.6, -1.5, -0.7, -0.3, -1.2, -2.2, -1.6, -0.9, -2.4, -2.9, -1.3, 0.2, -0.5,
  // 2015
  -1.1, -0.3, 0.6, -0.4, -1.4, -0.5, 0.7, 0.1, -0.1, 0.6, 1.3, 0.4, 0.2, -0.4, 1.5, 0.7, -0.4, 0.3, 0.9, -0.2, -0.8, -0.3, 0.4, -0.4,
  -1.2, -0.4, 0.5, -0.2, -0.6, 0.4, 1.0, 0.3, 0.2, 0.9, 1.6, 0.6, 0.7, 1.4, 2.2, 1.0, -0.2, 0.5, 1.2, 0.2, -0.8, -0.2, 0.3, -0.6,
  -1.4, -0.6, -0.2, -1.2, -2.0, -0.8, 0.4, -0.3, -0.8, 0.5, 1.2, 0.3, -0.3, 0.3, 0.6, -0.5, -1.1, -2.2, -1.9, -0.9, -0.4, -1.6, -2.8, -1.3,
  // 2016
  -1.0, -0.2, 0.5, -0.3, -0.6, 0.4, 1.6, 0.6, 0.4, -0.3, -0.9, 0.1, 0.2, -0.5, -1.3, -0.4, 0.5, -0.2, -0.7, 0.4, 1.6, 0.7, 0.3, -0.3,
  1.0, 0.2, -0.6, 0.3, 0.2, -0.5, -1.3, -0.4, 0.8, 0.1, -0.4, 0.5, 1.1, 0.4, 0.3, 1.2, 1.8, 0.9, -0.5, 1.5, 2.3, 1.1, 0.6, -0.4,
  -0.5, -1.3, -2.0, -0.8, 0.3, -2.7, -3.6, -1.9, -1.2, -2.4, -3.0, -1.0, -0.2, 0.5, 1.1, 0.2, -0.5, 0.6, 1.7, 0.7, 0.4, -0.3, -0.6, 0.3,
  // 2017
  0.9, 0.1, -0.5, 0.4, 1.2, 0.3, -1.2, -0.3, 0.1, -0.8, -1.8, -0.6, -0.3, 0.4, 0.5, -0.2, -1.1, -0.3, 1.2, 0.4, 0.2, 0.9, 1.8, 0.6,
  0.4, -0.3, -0.4, 0.5, 1.2, 0.2, -1.1, -0.4, 0.3, -0.6, -0.5, 1.4, 2.6, 1.1, -0.3, -1.8, -1.0, -2.4, -3.2, -1.4, -0.6, -2.9, -4.1, -2.2,
  -1.8, -0.7, -3.3, -1.2, 0.4, -0.5, -1.5, -0.2, 0.2, -1.0, -2.4, -0.8, -0.4, 0.5, 1.1, 0.2, 0.3, 1.4, 2.2, 0.9, 0.8, 1.8, 2.6, 1.2,
  // 2018
  1.2, 0.4, -0.3, 0.5, 0.7, -0.4, -1.4, -0.5, 0.1, 0.6, -0.7, 0.2, 0.9, 0.1, -0.2, 0.6, 1.5, 0.5, 0.1, -0.5, 0.9, 0.3, -0.7, 0.2,
  0.3, -0.4, -1.3, -0.5, 0.2, 0.8, -0.7, 0.3, 1.0, 0.4, 0.2, -0.3, 1.6, 0.8, 0.3, 2.4, 3.1, 1.5, 0.6, 1.8, 2.2, 0.9, -0.6, 0.3,
  0.5, -1.6, -3.1, -1.3, -1.2, -2.0, -2.4, -0.8, 0.2, -1.9, -3.0, -1.1, -1.5, -0.4, 0.4, -0.3, -0.6, 0.5, 1.4, 0.6, 0.3, -0.2, 0.8, 0.2,
  // 2019
  -0.8, 0.2, 1.0, -0.3, -1.4, -0.4, 0.5, -0.2, -0.2, 0.7, 1.5, 0.4, 0.3, -0.4, -0.9, 0.2, 0.6, -0.5, -1.6, -0.6, -0.2, -1.2, -2.1, -0.8,
  -0.6, 0.2, 0.7, -0.3, -0.4, 0.5, 1.2, 0.3, 0.1, 0.8, 1.7, 0.6, -0.5, 0.3, 0.4, -0.8, -1.6, -0.4, -0.6, -2.5, -3.2, -1.4, -2.3, -0.9,
  0.2, -0.5, -1.3, 0.4, 1.3, 0.5
];

// ---------------------------------------------------------------
// Series as {t, v} records
// ---------------------------------------------------------------
const toSeries = (start, step, values) => values.map((v, i) => ({ t: start + i * step, v }));

const originalSeries = toSeries(originalStart, originalStep, original);
const trendSeries = toSeries(trendStart, trendStep, trend);
const residualSeries = toSeries(residualStart, residualStep, residual);
const seasonalSeries = d3.range(seasonalCount).map(i => ({
  t: seasonalStart + i * seasonalStep,
  v: seasonalCycle[(seasonalFirstPhase + i) % seasonalCycle.length]
}));

// ---------------------------------------------------------------
// Layout and scales
// ---------------------------------------------------------------
const FONT = "Lato, 'Open Sans', 'DejaVu Sans', sans-serif";
const svg = d3.select("#chart");

const x = d3.scaleLinear().domain([1980, 2021]).range([185, 759]);
const yOriginal = d3.scaleLinear().domain([13, 32]).range([272.7, 97.3]);
const ySeasonal = d3.scaleLinear().domain([-6, 7]).range([476.7, 303]);
const yTrend = d3.scaleLinear().domain([16, 27]).range([700.7, 526]);
const yResidual = d3.scaleLinear().domain([-5, 6]).range([925, 750]);

function styleAxis(g, size) {
  g.attr("font-family", FONT).attr("font-size", size);
  g.selectAll("path.domain").attr("stroke", "#000").attr("stroke-width", 1.8);
  g.selectAll(".tick line").attr("stroke", "#000").attr("stroke-width", 1.8);
  g.selectAll("text").attr("fill", "#111");
}

function drawYAxis(scale, ticks) {
  const g = svg.append("g")
    .attr("transform", `translate(${x.range()[0]},0)`)
    .call(d3.axisLeft(scale)
      .tickValues(ticks)
      .tickSizeInner(-6)
      .tickSizeOuter(0)
      .tickPadding(19)
      .tickFormat(d => String(d)));
  styleAxis(g, 15.5);
}

// Horizontal axis without labels, ticks pointing up
function drawTimeLine(yPos) {
  const g = svg.append("g")
    .attr("transform", `translate(0,${yPos})`)
    .call(d3.axisBottom(x)
      .tickValues(yearTicks.slice(1))
      .tickSizeInner(-6)
      .tickSizeOuter(0)
      .tickFormat(""));
  styleAxis(g, 10);
}

const lineOf = y => d3.line().x(d => x(d.t)).y(d => y(d.v));

// ---------------------------------------------------------------
// Panel 1: original series with the year axis on top
// ---------------------------------------------------------------
const topAxis = svg.append("g")
  .attr("transform", `translate(0,${yOriginal.range()[1]})`)
  .call(d3.axisTop(x)
    .tickValues(yearTicks)
    .tickSizeInner(-6)
    .tickSizeOuter(0)
    .tickPadding(19)
    .tickFormat(d3.format("d")));
styleAxis(topAxis, 17.5);

drawYAxis(yOriginal, originalTicks);

svg.append("path")
  .datum(originalSeries)
  .attr("fill", "none")
  .attr("stroke", "#000")
  .attr("stroke-width", 3.4)
  .attr("stroke-linejoin", "round")
  .attr("d", lineOf(yOriginal));

// ---------------------------------------------------------------
// Panel 2: seasonal component
// ---------------------------------------------------------------
drawYAxis(ySeasonal, seasonalTicks);
svg.append("path")
  .datum(seasonalSeries)
  .attr("fill", "none")
  .attr("stroke", "#000")
  .attr("stroke-width", 2.8)
  .attr("stroke-linejoin", "round")
  .attr("d", lineOf(ySeasonal));
drawTimeLine(ySeasonal(0));

// ---------------------------------------------------------------
// Panel 3: trend component
// ---------------------------------------------------------------
drawYAxis(yTrend, trendTicks);
drawTimeLine(yTrend.range()[0]);
svg.append("path")
  .datum(trendSeries)
  .attr("fill", "none")
  .attr("stroke", "#000")
  .attr("stroke-width", 2.8)
  .attr("stroke-linejoin", "round")
  .attr("d", lineOf(yTrend));

// ---------------------------------------------------------------
// Panel 4: residual component (points)
// ---------------------------------------------------------------
drawYAxis(yResidual, residualTicks);
drawTimeLine(yResidual(0));
svg.append("g")
  .selectAll("circle")
  .data(residualSeries)
  .join("circle")
  .attr("cx", d => x(d.t))
  .attr("cy", d => yResidual(d.v))
  .attr("r", 2.2)
  .attr("fill", "#000");

// ---------------------------------------------------------------
// Titles
// ---------------------------------------------------------------
function label(text, px, py, size, len, rotate) {
  svg.append("text")
    .attr("transform", `translate(${px},${py})` + (rotate ? " rotate(-90)" : ""))
    .attr("text-anchor", "middle")
    .attr("font-family", FONT)
    .attr("font-size", size)
    .attr("fill", "#000")
    .attr("textLength", len)
    .attr("lengthAdjust", "spacingAndGlyphs")
    .text(text);
}

label("Tiempo", 466, 35, 33, 112, false);
label("Original", 74, 192, 30, 118, false);
label("BLA", 74, 228, 30, 58, false);
label("Estacional", 127, 391, 34, 173, true);
label("Tendencia", 127, 625, 34, 160, true);
label("Residual", 127, 850, 34, 120, true);
label("Componentes", 59, 621, 35, 233, true);
</script>
</body>
</html>
